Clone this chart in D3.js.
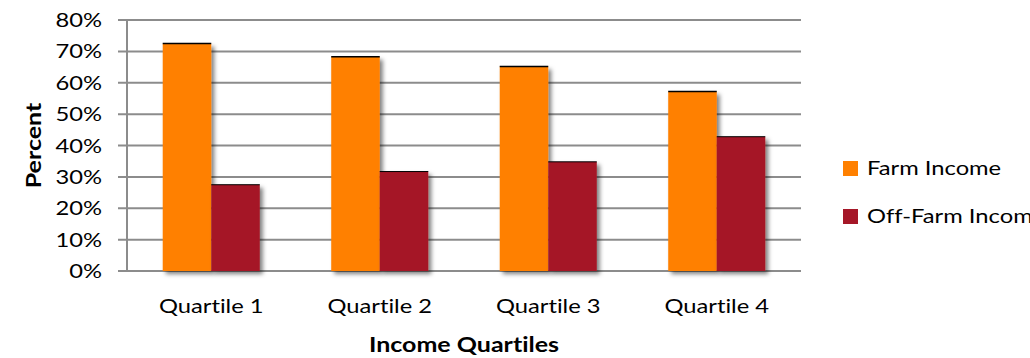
<!DOCTYPE html>
<html>
<head>
<meta charset="utf-8">
<script src="https://cdn.jsdelivr.net/npm/d3@7"></script>
<style>
  body { margin: 0; background: #fff; overflow: hidden; }
  text { font-family: Lato, "Open Sans", sans-serif; fill: #000; font-variant-ligatures: none; }
</style>
</head>
<body>
<script>
// chart data
var quartiles = ["Quartile 1", "Quartile 2", "Quartile 3", "Quartile 4"];
var seriesNames = ["Farm Income", "Off-Farm Income"];
var farmIncome = [0.725, 0.683, 0.652, 0.572];
var offFarmIncome = [0.275, 0.317, 0.348, 0.428];
var yTicks = [0, 0.1, 0.2, 0.3, 0.4, 0.5, 0.6, 0.7, 0.8];
var colors = ["#ff8000", "#a51728"];

var W = 1030, H = 358;
var plotLeft = 127, plotRight = 801, plotTop = 20, plotBottom = 271;
var stretch = 1.25; // text is a bit wide in the original

var svg = d3.select("body").append("svg")
  .attr("width", W)
  .attr("height", H);

var defs = svg.append("defs");
var f = defs.append("filter").attr("id", "shadow")
  .attr("x", "-20%").attr("y", "-20%").attr("width", "150%").attr("height", "150%");
f.append("feDropShadow")
  .attr("dx", 3).attr("dy", 3).attr("stdDeviation", 2)
  .attr("flood-color", "#000").attr("flood-opacity", 0.5);

var x0 = d3.scaleBand().domain(quartiles).range([plotLeft, plotRight]);
var groupW = x0.bandwidth() * 0.576;
var x1 = d3.scaleBand().domain(seriesNames).range([0, groupW]);
var y = d3.scaleLinear().domain([0, 0.8]).range([plotBottom, plotTop]);
var fmt = d3.format(".0%");

// gridlines
svg.append("g").selectAll("line")
  .data(yTicks)
  .enter().append("line")
  .attr("x1", plotLeft - 9)
  .attr("x2", plotRight)
  .attr("y1", function(d){ return y(d) })
  .attr("y2", function(d){ return y(d) })
  .style("stroke", "#8c8c8c")
  .style("stroke-width", 2);

// y axis line
svg.append("line")
  .attr("x1", plotLeft).attr("x2", plotLeft)
  .attr("y1", y(0.8)).attr("y2", y(0))
  .style("stroke", "#8c8c8c")
  .style("stroke-width", 2);

// y tick labels
svg.append("g").selectAll("text")
  .data(yTicks)
  .enter().append("text")
  .attr("transform", function(d){ return "translate(102," + (y(d) + 7) + ") scale(" + stretch + ",1)" })
  .attr("text-anchor", "end")
  .style("font-size", "19px")
  .text(function(d){ return fmt(d) });

// bars
var rows = quartiles.map(function(q, i){
  return { q: q, vals: [farmIncome[i], offFarmIncome[i]] };
});

var groups = svg.append("g").selectAll("g")
  .data(rows)
  .enter().append("g")
  .attr("transform", function(d){ return "translate(" + (x0(d.q) + (x0.bandwidth() - groupW) / 2) + ",0)" });

groups.selectAll("rect")
  .data(function(d){ return d.vals.map(function(v, j){ return { s: seriesNames[j], v: v, j: j } }) })
  .enter().append("rect")
  .attr("x", function(d){ return x1(d.s) })
  .attr("y", function(d){ return y(d.v) })
  .attr("width", x1.bandwidth())
  .attr("height", function(d){ return y(0) - y(d.v) })
  .style("fill", function(d){ return colors[d.j] })
  .attr("filter", "url(#shadow)");

// thin dark edge on top of each bar
groups.selectAll("line")
  .data(function(d){ return d.vals.map(function(v, j){ return { s: seriesNames[j], v: v, j: j } }) })
  .enter().append("line")
  .attr("x1", function(d){ return x1(d.s) })
  .attr("x2", function(d){ return x1(d.s) + x1.bandwidth() })
  .attr("y1", function(d){ return y(d.v) })
  .attr("y2", function(d){ return y(d.v) })
  .style("stroke", "#000")
  .style("stroke-width", function(d){ return d.j == 0 ? 1.5 : 1 });

// x tick labels
svg.append("g").selectAll("text")
  .data(quartiles)
  .enter().append("text")
  .attr("transform", function(d){ return "translate(" + (x0(d) + x0.bandwidth() / 2) + ",313) scale(" + stretch + ",1)" })
  .attr("text-anchor", "middle")
  .style("font-size", "19px")
  .text(function(d){ return d });

// axis titles
svg.append("text")
  .attr("transform", "translate(41," + ((plotTop + plotBottom) / 2) + ") rotate(-90) scale(" + stretch + ",1)")
  .attr("text-anchor", "middle")
  .style("font-size", "20px")
  .style("font-weight", "bold")
  .text("Percent");

svg.append("text")
  .attr("transform", "translate(" + ((plotLeft + plotRight) / 2) + ",352) scale(" + stretch + ",1)")
  .attr("text-anchor", "middle")
  .style("font-size", "20px")
  .style("font-weight", "bold")
  .text("Income Quartiles");

// legend
var legend = svg.append("g").selectAll("g")
  .data(seriesNames)
  .enter().append("g")
  .attr("transform", function(d, i){ return "translate(843," + (161 + i * 48) + ")" });

legend.append("rect")
  .attr("width", 15)
  .attr("height", 15)
  .style("fill", function(d, i){ return colors[i] });

legend.append("text")
  .attr("transform", "translate(24,14) scale(" + stretch + ",1)")
  .style("font-size", "19px")
  .text(function(d){ return d });
</script>
</body>
</html>
